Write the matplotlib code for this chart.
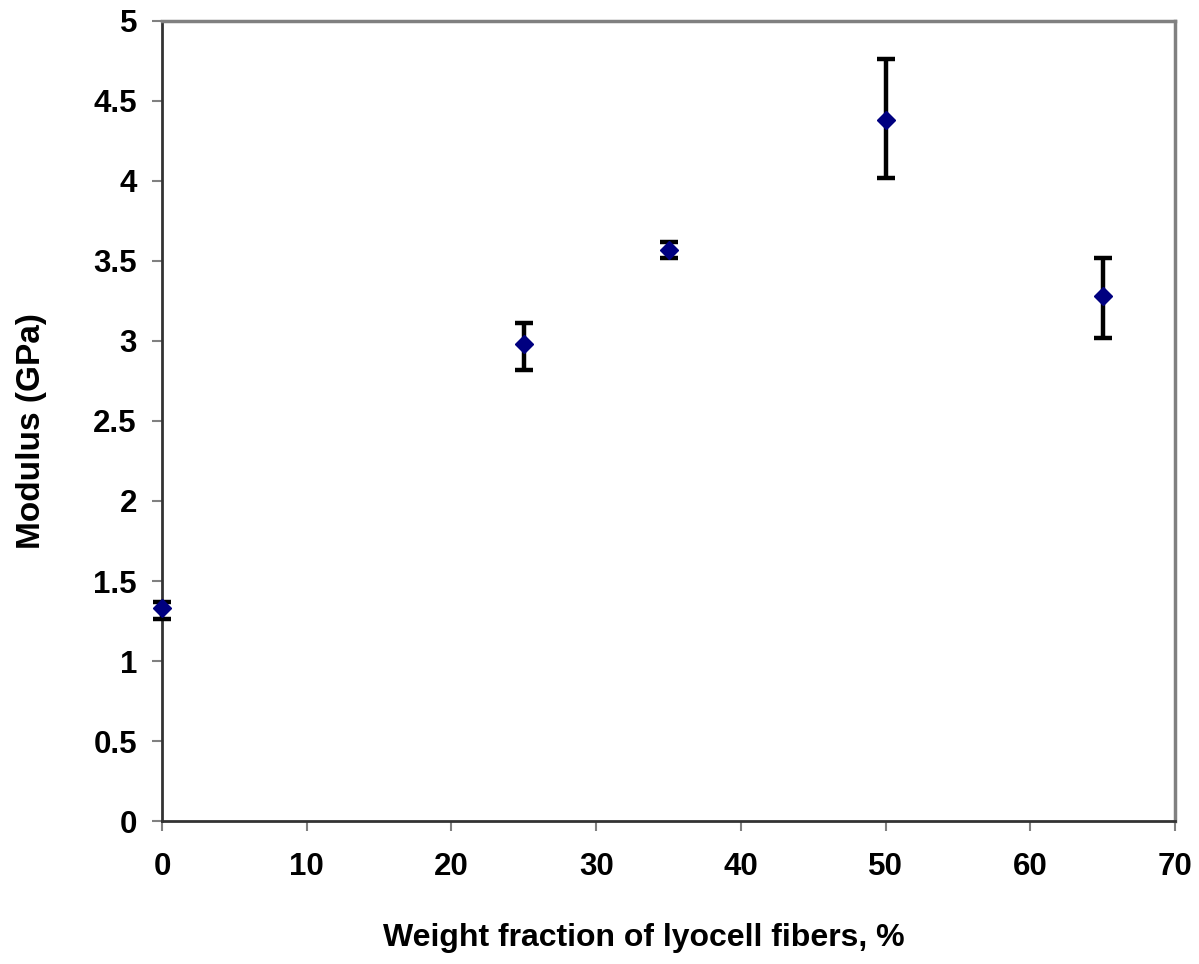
import matplotlib
matplotlib.use('Agg')
import matplotlib.pyplot as plt

# Modulus vs lyocell fiber weight fraction
fraction = [0, 25, 35, 50, 65]
modulus = [1.33, 2.98, 3.57, 4.38, 3.28]
err_low = [0.07, 0.16, 0.05, 0.36, 0.26]
err_high = [0.04, 0.13, 0.05, 0.38, 0.24]

plt.rcParams['font.family'] = ['Liberation Sans', 'DejaVu Sans']
plt.rcParams['font.weight'] = 'bold'

fig = plt.figure(figsize=(11.99, 9.64), dpi=100)
ax = fig.add_axes([0.1351, 0.1483, 0.845, 0.830])

eb = ax.errorbar(fraction, modulus, yerr=[err_low, err_high], fmt='D', color='#000080',
                 markersize=9.5, ecolor='black', elinewidth=3.2,
                 capsize=6.5, capthick=3.2, zorder=3, clip_on=False)

ax.set_xlim(0, 70)
ax.set_ylim(0, 5)
ax.set_xticks(range(0, 71, 10))
ax.set_yticks([0, 0.5, 1, 1.5, 2, 2.5, 3, 3.5, 4, 4.5, 5])
ax.set_yticklabels(['0', '0.5', '1', '1.5', '2', '2.5', '3', '3.5', '4', '4.5', '5'])

for side in ['top', 'right']:
    ax.spines[side].set_color('#808080')
    ax.spines[side].set_linewidth(2.5)
for side in ['left', 'bottom']:
    ax.spines[side].set_color('#333333')
    ax.spines[side].set_linewidth(2)

ax.tick_params(axis='both', direction='out', length=7, width=1.5, color='#808080',
               labelsize=22.5)
ax.tick_params(axis='x', pad=15)
ax.tick_params(axis='y', pad=11)
for lab in ax.get_xticklabels() + ax.get_yticklabels():
    lab.set_fontweight('bold')

ax.set_xlabel('Weight fraction of lyocell fibers, %', fontsize=23, fontweight='bold')
ax.set_ylabel('Modulus (GPa)', fontsize=24, fontweight='bold')
ax.xaxis.set_label_coords(0.476, -0.128)
ax.yaxis.set_label_coords(-0.113, 0.4875)

plt.savefig('out.png', dpi=100)
